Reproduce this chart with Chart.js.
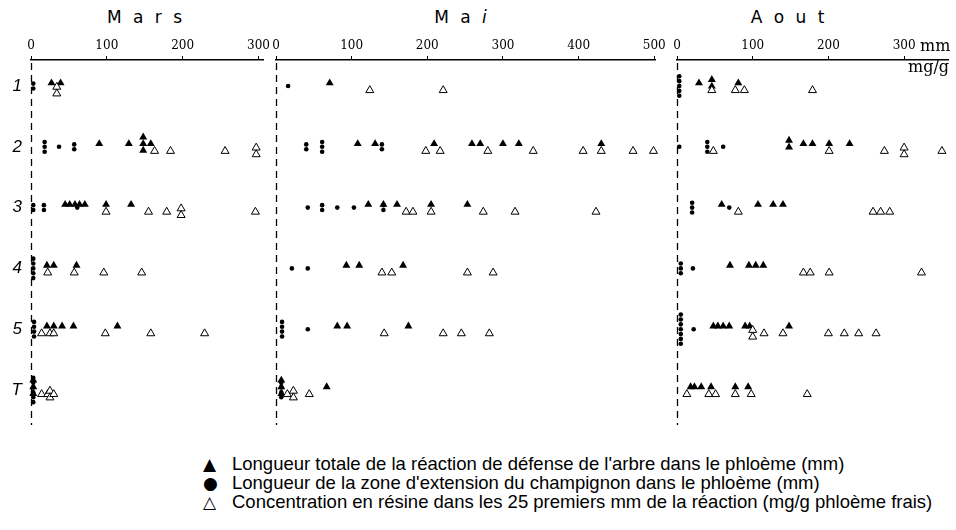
<!DOCTYPE html>
<html>
<head>
<meta charset="utf-8">
<script src="https://cdn.jsdelivr.net/npm/chart.js@4.4.1/dist/chart.umd.min.js"></script>
<style>
  body { margin: 0; background: #fff; }
  #page { position: relative; width: 956px; height: 530px; overflow: hidden; }
  .panel { position: absolute; top: 30px; height: 395px; }
  .month { position: absolute; top: 7px; font: 17px 'DejaVu Sans', sans-serif; letter-spacing: 3px;
           transform: translateX(-50%); white-space: pre; color: #000; }
  .unit { position: absolute; font: 16px 'DejaVu Serif', serif; color: #000; }
  .legend { position: absolute; left: 203px; font: 18.5px 'Liberation Sans', Arial, sans-serif; line-height: 20px;
            color: #000; white-space: nowrap; }
  .legend span.sym { display: inline-block; width: 29px; font-family: 'DejaVu Sans'; font-size: 17px; }
</style>
</head>
<body>
<div id="page">
  <div class="month" style="left:146px">M a r s</div>
  <div class="month" style="left:462px">M a <i>i</i></div>
  <div class="month" style="left:789px">A o u t</div>

  <div class="panel" style="left:0px;width:280px"><canvas id="mars"></canvas></div>
  <div class="panel" style="left:256px;width:414px"><canvas id="mai"></canvas></div>
  <div class="panel" style="left:657px;width:299px"><canvas id="aout"></canvas></div>

  <div class="unit" style="left:920px;top:36px">mm</div>
  <div class="unit" style="left:908px;top:57px">mg/g</div>

  <div class="legend" style="top:454px"><span class="sym">▲</span>Longueur totale de la réaction de défense de l'arbre dans le phloème (mm)</div>
  <div class="legend" style="top:473px"><span class="sym">●</span>Longueur de la zone d'extension du champignon dans le phloème (mm)</div>
  <div class="legend" style="top:492px"><span class="sym">△</span>Concentration en résine dans les 25 premiers mm de la réaction (mg/g phloème frais)</div>
</div>

<script>
// rows (trees 1-5 and T = témoin)
const rowLabels = ['1', '2', '3', '4', '5', 'T'];

// tick labels for each month axis
const marsTicks = [0, 100, 200, 300];
const maiTicks = [0, 100, 200, 300, 400, 500];
const aoutTicks = [0, 100, 200, 300];

// one sub-array per row; repeated values are stacked points
// Mars
const marsTotal = [[27, 39], [90, 129, 148, 148, 148, 158], [45, 51, 58, 64, 71, 99, 132], [21, 30, 60], [21, 30, 41, 56, 114], [3, 3, 3]];
const marsFungus = [[3, 3], [18, 18, 18, 37, 57, 57], [3, 3, 17, 17, 61], [3, 3, 3, 3, 3], [4, 4, 4, 4], [3, 3, 3, 3, 3, 3]];
const marsResin = [[34, 34], [163, 184, 256, 297, 297], [99, 155, 179, 198, 198, 296], [22, 57, 96, 146], [14, 25, 30, 98, 158, 229], [14, 22, 25, 25, 30]];

// Mai
const maiTotal = [[71], [108, 131, 209, 259, 270, 300, 321, 430], [122, 142, 160, 205, 253], [93, 110, 168], [81, 94, 175], [7, 7, 7, 67]];
const maiFungus = [[16], [40, 40, 61, 61, 61, 140, 140], [42, 61, 61, 81, 103, 142, 142], [21, 42], [8, 8, 8, 8, 42], [7, 7, 7, 7]];
const maiResin = [[124, 221], [198, 217, 280, 340, 406, 430, 472, 499], [172, 181, 205, 274, 316, 423], [140, 153, 253, 287], [143, 221, 245, 282], [15, 23, 23, 44]];

// Aout
const aoutTotal = [[29, 46, 46, 81], [148, 148, 167, 179, 201, 228], [59, 107, 127, 140], [70, 95, 104, 114], [48, 54, 61, 69, 90, 96, 148], [18, 23, 32, 45, 77, 94]];
const aoutFungus = [[3, 3, 3, 3, 3], [3, 40, 40, 40, 61], [20, 20, 20, 69], [5, 5, 5, 21], [5, 5, 5, 5, 5, 5, 5, 22], []];
const aoutResin = [[46, 77, 89, 179], [48, 201, 274, 300, 300, 350], [81, 259, 269, 281], [167, 176, 201, 323], [100, 100, 115, 140, 200, 221, 240, 263], [13, 42, 51, 77, 98, 172]];

// turn row arrays into scatter points, stacking repeated values vertically
function toPoints(rows, base, step) {
    const pts = [];
    rows.forEach((vals, i) => {
        const count = {};
        vals.forEach(v => { count[v] = (count[v] || 0) + 1; });
        const seen = {};
        vals.forEach(v => {
            const k = seen[v] || 0;
            seen[v] = k + 1;
            pts.push({ x: v, y: i + 1 + base + (k - (count[v] - 1) / 2) * step });
        });
    });
    return pts;
}

// dashed line at x = 0
const zeroLine = {
    id: 'zeroLine',
    beforeDatasetsDraw(chart) {
        const { ctx, chartArea, scales } = chart;
        const x = Math.round(scales.x.getPixelForValue(0)) + 0.5;
        ctx.save();
        ctx.strokeStyle = '#000';
        ctx.lineWidth = 1.3;
        ctx.setLineDash([7, 5]);
        ctx.beginPath();
        ctx.moveTo(x, chartArea.top + 3);
        ctx.lineTo(x, chartArea.bottom);
        ctx.stroke();
        ctx.restore();
    }
};

function makePanel(id, total, fungus, resin, max, ticks, showRows, pad) {
    const ctx = document.getElementById(id).getContext('2d');
    return new Chart(ctx, {
        type: 'scatter',
        data: {
            datasets: [
                {
                    label: 'Résine',
                    data: toPoints(resin, 0.07, 0.11),
                    pointStyle: 'triangle',
                    pointRadius: 4.6,
                    backgroundColor: '#fff',
                    borderColor: '#000',
                    borderWidth: 1,
                    clip: false
                },
                {
                    label: 'Champignon',
                    data: toPoints(fungus, 0, 0.08),
                    pointStyle: 'circle',
                    pointRadius: 2.3,
                    backgroundColor: '#000',
                    borderColor: '#000',
                    borderWidth: 0,
                    clip: false
                },
                {
                    label: 'Réaction',
                    data: toPoints(total, -0.05, 0.11),
                    pointStyle: 'triangle',
                    pointRadius: 4.6,
                    backgroundColor: '#000',
                    borderColor: '#000',
                    borderWidth: 0,
                    clip: false
                }
            ]
        },
        options: {
            responsive: true,
            maintainAspectRatio: false,
            animation: false,
            layout: { autoPadding: false, padding: pad },
            plugins: { legend: { display: false }, tooltip: { enabled: false } },
            scales: {
                x: {
                    type: 'linear',
                    position: 'top',
                    min: 0,
                    max: max,
                    afterBuildTicks: s => { s.ticks = ticks.map(v => ({ value: v })); },
                    afterFit: s => { s.height = 30; },
                    ticks: {
                        color: '#000',
                        padding: 3,
                        maxRotation: 0,
                        autoSkip: false,
                        font: { family: 'DejaVu Serif', size: 12 }
                    },
                    grid: { drawOnChartArea: false, drawTicks: true, tickLength: 4, color: '#000' },
                    border: { display: true, color: '#000', width: 1.5 }
                },
                y: {
                    type: 'linear',
                    reverse: true,
                    min: 0.572,
                    max: 6.576,
                    display: showRows,
                    afterBuildTicks: s => { s.ticks = rowLabels.map((r, i) => ({ value: i + 1 })); },
                    afterFit: s => {
                        s.width = showRows ? 31 : 0;
                        s.paddingTop = 0;
                        s.paddingBottom = 0;
                    },
                    ticks: {
                        color: '#000',
                        padding: 9,
                        callback: v => rowLabels[v - 1],
                        font: { family: 'Liberation Sans', size: 17, style: 'italic' }
                    },
                    grid: { display: false, drawTicks: false },
                    border: { display: false }
                }
            }
        },
        plugins: [zeroLine]
    });
}

makePanel('mars', marsTotal, marsFungus, marsResin, 306, marsTicks, true, { left: 0, right: 17, top: 0, bottom: 0 });
makePanel('mai', maiTotal, maiFungus, maiResin, 501, maiTicks, false, { left: 20, right: 15, top: 0, bottom: 0 });
makePanel('aout', aoutTotal, aoutFungus, aoutResin, 358, aoutTicks, false, { left: 20, right: 8, top: 0, bottom: 0 });
</script>
</body>
</html>
